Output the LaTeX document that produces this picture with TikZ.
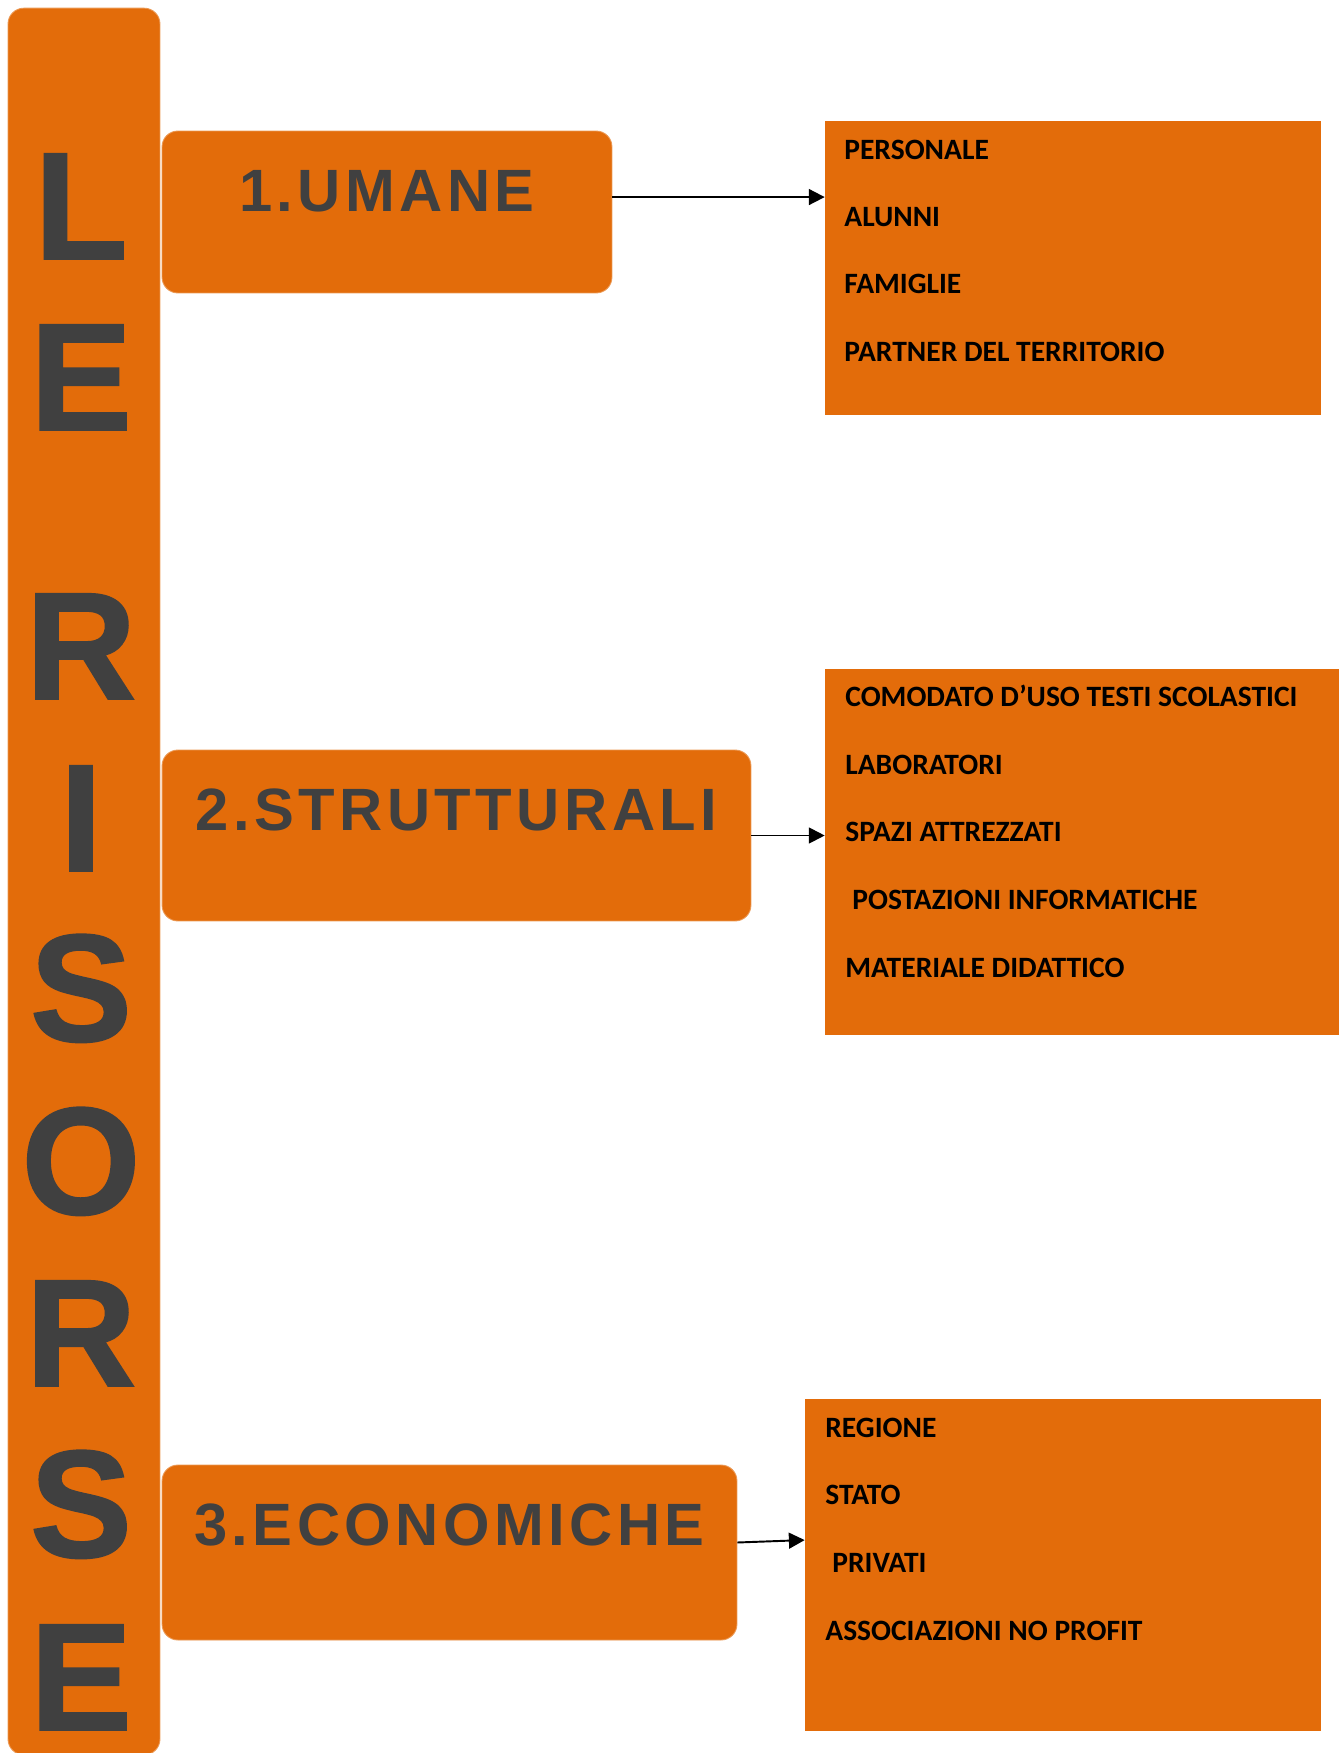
\documentclass[tikz,border=0pt]{standalone}
\usepackage{fontspec}
\usetikzlibrary{positioning,arrows.meta}
\setmainfont{Liberation Sans}
\newfontfamily\titlefont{Liberation Sans}[LetterSpace=7.5]
\newfontfamily\letterfont{Liberation Sans Bold}[FakeBold=1.2]
\newfontfamily\listfont{Carlito}
\definecolor{arancio}{HTML}{E36C0A}
\definecolor{grigio}{HTML}{404040}

\begin{document}
\begin{tikzpicture}[x=0.02cm,y=-0.02cm,
    barra/.style={fill=arancio,draw=arancio!70!white,line width=0.5pt,rounded corners=9pt,inner sep=0pt},
    titolo/.style={barra,text=grigio,font=\titlefont\bfseries\fontsize{34}{40}\selectfont,text height=25pt,text depth=25pt},
    lista/.style={fill=arancio,inner sep=0pt},
    voce/.style={anchor=base west,inner sep=0pt,font=\listfont\bfseries\fontsize{16.8}{20}\selectfont},
    lettera/.style={anchor=base,inner sep=0pt,text=grigio,font=\letterfont\fontsize{87}{90}\selectfont},
    freccia/.style={-{Triangle[length=9pt,width=9pt]},line width=1.1pt}]
    \useasboundingbox (0,0) rectangle (1343,1753);
    % colonna a sinistra
    \node[barra,minimum width=3.04cm,minimum height=34.94cm] (colonna) at (84,881.5) {};
    \foreach \l/\y in {L/259,E/430,R/699,I/871,S/1041,O/1214,R/1386,S/1557,E/1730}
        \node[lettera] (let\y) at (81,\y) {\l};
    % le tre categorie
    \node[titolo,minimum width=9cm,minimum height=3.24cm] (umane) at (387,212) {1.UMANE};
    \node[titolo,text depth=31pt,minimum width=11.78cm,minimum height=3.42cm] (strutturali) at (456.5,835.5) {2.STRUTTURALI};
    \node[titolo,text depth=33pt,minimum width=11.5cm,minimum height=3.5cm] (economiche) at (449.5,1552.5) {3.ECONOMICHE};
    % elenchi
    \node[lista,minimum width=9.92cm,minimum height=5.88cm] (risumane) at (1073,268) {};
    \foreach \t/\x/\y in {PERSONALE/844/160,ALUNNI/844/227,FAMIGLIE/844/294,PARTNER DEL TERRITORIO/844/362}
        \node[voce] (um\y) at (\x,\y) {\t};
    \node[lista,minimum width=10.28cm,minimum height=7.32cm] (risstrutt) at (1082,852) {};
    \foreach \t/\x/\y in {COMODATO D’USO TESTI SCOLASTICI/845/706,LABORATORI/845/774,SPAZI ATTREZZATI/845/841,POSTAZIONI INFORMATICHE/852/909,MATERIALE DIDATTICO/845/977}
        \node[voce] (st\y) at (\x,\y) {\t};
    \node[lista,minimum width=10.32cm,minimum height=6.64cm] (riseconom) at (1063,1565) {};
    \foreach \t/\x/\y in {REGIONE/825/1437,STATO/825/1504,PRIVATI/832/1572,ASSOCIAZIONI NO PROFIT/825/1640}
        \node[voce] (ec\y) at (\x,\y) {\t};
    % frecce
    \draw[freccia] ([yshift=8.5pt]umane.east) -- ([yshift=8.5pt]umane.east -| risumane.west);
    \draw[freccia] (strutturali) -- (strutturali -| risstrutt.west);
    \draw[freccia] ([yshift=5.7pt]economiche.east) -- ([yshift=14.2pt]riseconom.west);
\end{tikzpicture}
\end{document}
